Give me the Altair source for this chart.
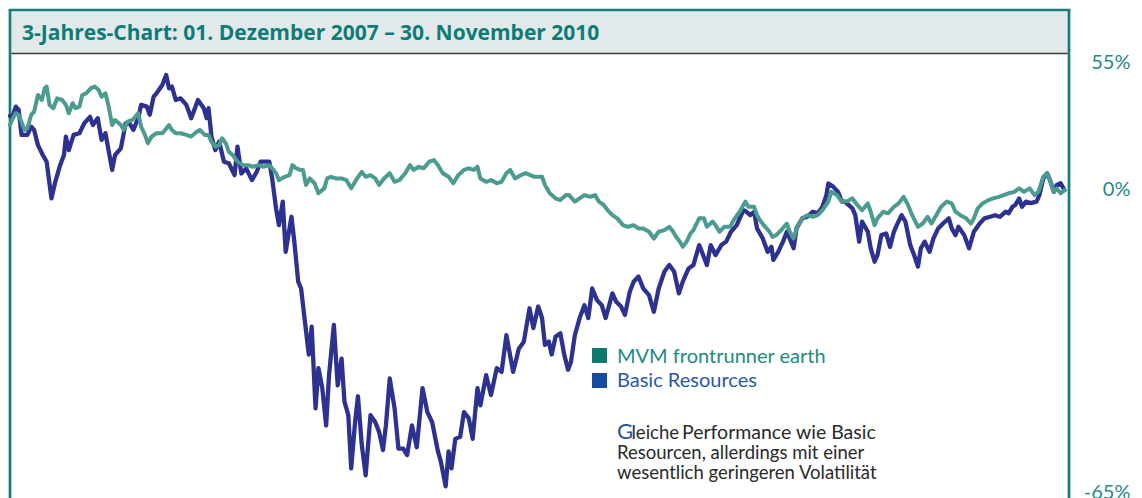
import altair as alt
import pandas as pd

# ---- data (day offset since 01.12.2007, performance in %) ----
basic_days = [0, 2, 6, 9, 12, 18, 22, 25, 29, 34, 38, 43, 47, 52, 56, 58, 61, 66, 72, 77, 83, 86, 91, 95, 99,
              106, 109, 115, 120, 123, 128, 133, 136, 142, 145, 149, 152, 158, 162, 165, 168, 172, 177, 183, 188,
              195, 201, 204, 206, 209, 213, 217, 222, 227, 233, 236, 240, 245, 251, 256, 260, 265, 269, 272, 276,
              279, 283, 286, 292, 295, 299, 302, 306, 310, 313, 317, 320, 324, 328, 331, 336, 340, 344, 347, 351,
              354, 358, 361, 365, 369, 374, 379, 383, 387, 390, 394, 399, 403, 408, 412, 417, 422, 428, 433, 438,
              444, 447, 452, 455, 458, 462, 467, 471, 476, 480, 485, 488, 494, 499, 505, 510, 515, 522, 528, 533,
              539, 543, 548, 552, 555, 559, 562, 566, 571, 575, 579, 582, 586, 591, 596, 600, 604, 609, 614, 618,
              625, 629, 634, 638, 643, 647, 652, 657, 663, 668, 673, 679, 684, 689, 694, 698, 704, 709, 715, 718,
              723, 727, 732, 738, 743, 748, 754, 757, 761, 764, 768, 772, 775, 781, 786, 790, 792, 797, 802, 806,
              809, 813, 816, 822, 827, 833, 838, 843, 847, 849, 854, 859, 863, 866, 870, 874, 877, 881, 884, 890,
              893, 897, 900, 904, 909, 913, 917, 920, 925, 929, 934, 938, 942, 945, 949, 954, 958, 963, 968, 974,
              977, 981, 984, 990, 995, 1000, 1006, 1011, 1017, 1022, 1027, 1033, 1036, 1040, 1043, 1047, 1050,
              1054, 1059, 1065, 1068, 1072, 1076, 1079, 1083, 1086, 1090, 1094]
basic_pct = [29.0, 28.0, 33.2, 31.7, 20.8, 20.8, 24.3, 22.9, 16.6, 12.7, 10.1, -3.0, 2.7, 8.8, 12.7, 20.1, 14.6,
             20.8, 21.5, 25.7, 28.6, 25.0, 28.0, 18.7, 21.5, 7.0, 12.7, 15.3, 25.7, 26.4, 22.9, 28.0, 34.0, 33.2,
             29.5, 37.9, 39.5, 43.6, 48.6, 41.9, 42.8, 36.3, 37.1, 34.0, 28.0, 36.3, 32.5, 28.0, 32.5, 20.1, 14.6,
             18.0, 10.1, 9.5, 5.1, 16.0, 5.7, 7.6, 3.3, 6.3, 10.1, 10.1, 10.1, 3.9, -6.3, -11.6, -4.1, -19.4, -9.0,
             -16.5, -27.3, -29.0, -36.7, -43.5, -37.8, -53.1, -46.1, -49.7, -55.8, -47.4, -37.4, -49.2, -44.3,
             -52.0, -54.2, -61.9, -55.3, -51.1, -58.7, -62.8, -54.2, -55.3, -56.8, -59.4, -55.8, -48.0, -53.1,
             -59.2, -59.2, -60.1, -55.8, -59.0, -49.7, -53.7, -55.3, -59.6, -61.0, -64.2, -59.6, -61.9, -57.8,
             -57.5, -53.7, -54.7, -57.8, -49.7, -52.6, -47.4, -50.9, -46.1, -46.8, -39.6, -46.8, -42.3, -41.0,
             -33.7, -38.1, -33.3, -35.9, -41.6, -40.9, -43.5, -39.9, -39.2, -43.5, -46.4, -44.9, -39.6, -35.9,
             -33.0, -35.9, -29.0, -31.8, -33.0, -35.9, -30.2, -32.2, -33.3, -35.2, -29.8, -27.3, -26.0, -29.0,
             -30.6, -34.5, -29.0, -24.7, -23.0, -24.7, -30.2, -27.3, -23.9, -23.0, -17.5, -19.5, -23.0, -17.5,
             -20.3, -17.5, -16.5, -13.6, -11.6, -9.5, -6.9, -7.4, -8.5, -7.4, -12.6, -15.6, -19.4, -18.0, -21.6,
             -19.4, -16.5, -13.6, -15.6, -18.4, -12.6, -9.5, -9.0, -7.4, -7.9, -5.8, -1.9, 2.1, 1.0, -0.8, -4.1,
             -4.1, -5.2, -6.3, -8.5, -16.5, -10.5, -13.6, -18.4, -22.1, -20.3, -14.6, -14.1, -18.0, -13.6, -11.6,
             -8.5, -10.5, -17.5, -20.3, -23.4, -18.4, -16.5, -19.4, -15.6, -12.6, -11.1, -9.5, -12.6, -14.6,
             -12.1, -14.6, -18.4, -13.6, -11.1, -9.5, -9.0, -8.5, -9.0, -7.4, -7.9, -5.8, -5.2, -3.1, -5.8, -4.1,
             -4.6, -4.1, -1.9, 3.9, 5.8, 3.3, -0.8, 1.6, 2.2, -0.2]

mvm_days = [0, 2, 6, 9, 15, 18, 22, 25, 29, 33, 36, 38, 41, 45, 49, 54, 58, 61, 65, 68, 72, 75, 79, 84, 88, 92,
            95, 99, 102, 106, 109, 115, 118, 122, 127, 133, 136, 140, 143, 147, 152, 158, 161, 165, 168, 172, 177,
            183, 188, 194, 197, 202, 206, 209, 213, 217, 220, 224, 227, 231, 236, 242, 247, 252, 258, 263, 269,
            272, 276, 279, 285, 290, 293, 297, 301, 304, 307, 311, 316, 320, 326, 329, 333, 338, 344, 349, 354,
            360, 365, 369, 374, 379, 383, 388, 394, 399, 404, 410, 415, 419, 424, 429, 435, 440, 444, 449, 455,
            460, 465, 471, 476, 481, 485, 488, 494, 499, 505, 510, 515, 519, 524, 530, 535, 544, 552, 555, 560,
            566, 571, 577, 580, 586, 591, 596, 602, 607, 611, 616, 620, 625, 630, 636, 641, 647, 652, 657, 663,
            668, 673, 679, 684, 688, 691, 695, 698, 702, 706, 709, 715, 720, 723, 729, 732, 736, 741, 747, 752,
            757, 763, 766, 772, 775, 779, 782, 788, 791, 795, 800, 806, 809, 813, 816, 822, 827, 833, 838, 843,
            849, 852, 858, 863, 868, 874, 879, 884, 890, 893, 897, 900, 906, 911, 917, 922, 927, 931, 936, 942,
            947, 952, 956, 961, 966, 972, 977, 981, 986, 992, 997, 1000, 1004, 1009, 1015, 1020, 1026, 1031,
            1036, 1042, 1047, 1052, 1058, 1063, 1067, 1072, 1076, 1079, 1083, 1086, 1090, 1094]
mvm_pct = [25.0, 27.2, 30.2, 29.5, 22.9, 23.6, 29.5, 30.9, 38.7, 36.3, 42.0, 42.8, 34.0, 32.5, 37.1, 36.3, 34.0,
           30.2, 34.8, 32.5, 33.2, 38.7, 39.5, 42.0, 42.8, 41.1, 37.9, 39.5, 34.0, 25.0, 27.2, 25.0, 22.9, 26.5,
           27.2, 30.2, 24.3, 20.8, 17.4, 20.1, 21.5, 21.5, 22.9, 25.0, 22.9, 21.5, 21.5, 20.8, 20.1, 22.2, 22.9,
           20.8, 20.8, 18.0, 16.0, 16.6, 19.4, 17.3, 14.0, 12.7, 10.1, 8.8, 8.8, 8.2, 8.8, 8.2, 8.8, 7.6, 5.8,
           3.3, 4.5, 5.1, 8.8, 7.6, 7.0, 7.0, 1.6, 3.9, 2.2, -1.3, 0.4, 3.9, 4.5, 3.9, 3.9, 3.3, 0.4, 3.9, 6.3,
           4.5, 5.1, 3.9, 1.6, 3.9, 5.8, 2.7, 3.3, 5.8, 8.8, 7.0, 8.2, 7.6, 10.1, 10.7, 8.8, 5.8, 4.5, 2.2, 5.1,
           7.0, 7.6, 7.0, 8.2, 3.9, 2.7, 3.3, 2.2, 2.7, 5.8, 7.0, 3.9, 5.1, 5.8, 4.5, 4.5, 1.6, -1.3, -3.0, -3.6,
           -1.9, -1.9, -4.1, -3.0, -1.9, -2.5, -1.9, -4.1, -5.2, -6.9, -8.5, -9.5, -11.6, -12.1, -11.6, -12.6,
           -12.6, -13.6, -15.6, -13.6, -13.1, -12.1, -13.6, -15.1, -16.5, -18.0, -16.5, -14.1, -13.1, -9.5,
           -9.5, -12.1, -10.5, -11.6, -13.6, -12.1, -12.1, -9.5, -7.4, -4.1, -5.8, -5.8, -8.5, -10.5, -11.6,
           -13.6, -15.1, -14.6, -13.1, -11.1, -13.6, -15.6, -12.6, -9.5, -8.5, -9.0, -8.5, -6.9, -4.1, -0.8,
           -1.9, -4.1, -4.1, -3.0, -5.2, -6.9, -4.7, -7.4, -11.6, -9.5, -7.4, -7.9, -5.8, -4.7, -2.5, -4.7,
           -8.5, -12.1, -11.1, -9.0, -11.1, -8.5, -5.8, -4.1, -4.7, -7.4, -8.5, -9.5, -11.1, -9.5, -6.3, -4.7,
           -3.6, -3.0, -2.5, -1.9, -1.3, -0.8, 0.4, -0.8, 0.4, -1.9, -0.8, 4.5, 5.8, 3.3, -0.8, 0.4, -1.3, -0.2]

series_names = ["MVM frontrunner earth", "Basic Resources"]
line_colors = ["#4c9b90", "#2d3190"]
legend_colors = ["#0c7a6f", "#134ca2"]
legend_text_colors = ["#1d8a80", "#2a56aa"]
axis_values = [155, 100, 35]          # index levels for +55 %, 0 %, -65 %

title_text = "3-Jahres-Chart: 01. Dezember 2007 \u2013 30. November 2010"
note_lines = ["Resourcen, allerdings mit einer", "wesentlich geringeren Volatilit\u00e4t"]

TEAL = "#147f7a"
W, H = 1059, 440
FONT = "Lato"

basic = pd.DataFrame({"Tag": basic_days, "pct": basic_pct, "Serie": series_names[1]})
mvm = pd.DataFrame({"Tag": mvm_days, "pct": mvm_pct, "Serie": series_names[0]})

x_enc = alt.X("Tag:Q", scale=alt.Scale(domain=[0, 1098.7], nice=False, zero=False), axis=None)
y_enc = alt.Y(
    "idx:Q",
    scale=alt.Scale(type="log", domain=[34.75, 159.27], nice=False),
    axis=alt.Axis(
        orient="right", values=axis_values, domain=False, ticks=False, tickSize=0, grid=False,
        labelExpr="(datum.value - 100) + '%'", labelFont=FONT, labelFontSize=20, labelColor="#1f8a84",
        labelAlign="right", labelBaseline="middle", labelPadding=61, labelOverlap=False,
        labelFlush=False, labelBound=False, title=None,
    ),
)

def series_layer(df, color, width):
    return (
        alt.Chart(df)
        .transform_calculate(idx="100 + datum.pct")
        .mark_line(color=color, strokeWidth=width, strokeJoin="round", strokeCap="round")
        .encode(x=x_enc, y=y_enc)
    )

one = pd.DataFrame({"k": [0]})
base = alt.Chart(one)

title_bg = base.mark_rect(color="#e2e9ea").encode(
    x=alt.value(1.3), x2=alt.value(W - 1.3), y=alt.value(-43.7), y2=alt.value(-2))
title_rule = base.mark_rule(color="#3a3a3a", strokeWidth=1.5).encode(
    x=alt.value(1.3), x2=alt.value(W - 1.3), y=alt.value(-1.5))
frame_top = base.mark_rule(color=TEAL, strokeWidth=2.7).encode(
    x=alt.value(-1.35), x2=alt.value(W + 1.35), y=alt.value(-45))
frame_left = base.mark_rule(color=TEAL, strokeWidth=2.7).encode(
    x=alt.value(0), y=alt.value(-45), y2=alt.value(H + 10))
frame_right = base.mark_rule(color=TEAL, strokeWidth=2.7).encode(
    x=alt.value(W), y=alt.value(-45), y2=alt.value(H + 10))
title = base.mark_text(text=title_text, font="Open Sans", fontSize=21, fontWeight="bold", color="#0e7c76",
                       align="left", baseline="alphabetic").encode(x=alt.value(12), y=alt.value(-15.5))

leg = pd.DataFrame({"name": series_names, "sq": legend_colors, "tc": legend_text_colors, "row": [0, 1]})
leg_sq = [
    alt.Chart(leg.iloc[[i]]).mark_square(size=225, opacity=1, color=legend_colors[i])
    .encode(x=alt.value(589.5), y=alt.value(300.5 + 25 * i))
    for i in range(2)
]
leg_tx = [
    alt.Chart(leg.iloc[[i]]).mark_text(font=FONT, fontSize=20, color=legend_text_colors[i], align="left",
                                       baseline="alphabetic")
    .encode(text="name:N", x=alt.value(607), y=alt.value(308 + 24 * i))
    for i in range(2)
]

note_g = base.mark_text(text="G", font=FONT, fontSize=22, color="#2752a5", align="left",
                        baseline="alphabetic").encode(x=alt.value(607), y=alt.value(383.5))
note_l = base.mark_text(text="leiche", font=FONT, fontSize=18.5, color="#2a2a2a", align="left",
                        baseline="alphabetic").encode(x=alt.value(621.5), y=alt.value(383.5))
note_p = base.mark_text(text="Performance wie Basic", font=FONT, fontSize=19.5, color="#2a2a2a", align="left",
                        baseline="alphabetic").encode(x=alt.value(672), y=alt.value(383.5))
note_rest = [
    base.mark_text(text=t, font=FONT, fontSize=18.5, color="#2a2a2a", align="left", baseline="alphabetic")
    .encode(x=alt.value(607), y=alt.value(404 + 20 * i))
    for i, t in enumerate(note_lines)
]

chart = alt.layer(
    title_bg, title_rule, frame_top, frame_left, frame_right, title,
    series_layer(basic, line_colors[1], 4.3),
    series_layer(mvm, line_colors[0], 4.0),
    *leg_sq, *leg_tx, note_g, note_l, note_p, *note_rest,
).properties(
    width=W, height=H,
    autosize=alt.AutoSizeParams(type="none"),
    padding={"left": 2, "top": 47, "right": 64, "bottom": 3},
    background="white",
).configure_view(strokeWidth=0)

chart.save("out.html", embed_options={"renderer": "svg", "actions": False})
